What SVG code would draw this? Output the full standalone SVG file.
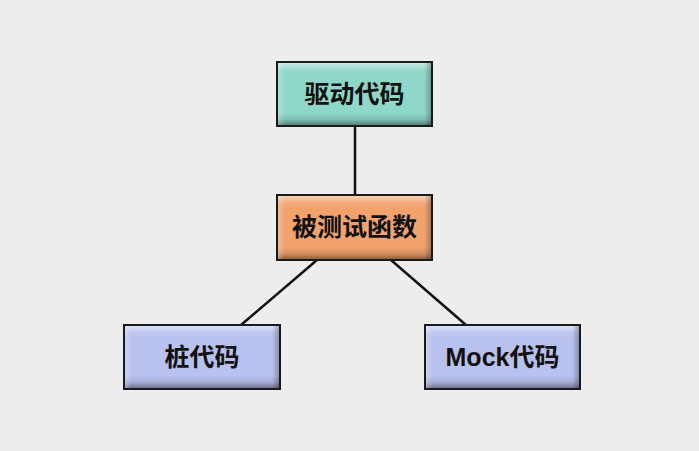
<svg xmlns="http://www.w3.org/2000/svg" width="699" height="451" viewBox="0 0 699 451">
<style>
.box{stroke:#1a1a1a;stroke-width:2}
.lbl{font-family:"Liberation Sans","Noto Sans CJK SC",sans-serif;font-weight:bold;font-size:25px;fill:#111;text-anchor:middle;dominant-baseline:central}
.edge{stroke:#111;stroke-width:2.5;fill:none}
</style>
<defs>
<linearGradient id="v" x1="0" y1="0" x2="0" y2="1">
<stop offset="0" stop-color="#fff" stop-opacity="0.55"/>
<stop offset="0.12" stop-color="#fff" stop-opacity="0.1"/>
<stop offset="0.2" stop-color="#fff" stop-opacity="0"/>
<stop offset="0.8" stop-color="#000" stop-opacity="0"/>
<stop offset="0.9" stop-color="#000" stop-opacity="0.12"/>
<stop offset="1" stop-color="#000" stop-opacity="0.45"/>
</linearGradient>
<linearGradient id="h" x1="0" y1="0" x2="1" y2="0">
<stop offset="0" stop-color="#fff" stop-opacity="0.3"/>
<stop offset="0.05" stop-color="#fff" stop-opacity="0"/>
<stop offset="0.95" stop-color="#000" stop-opacity="0"/>
<stop offset="1" stop-color="#000" stop-opacity="0.3"/>
</linearGradient>
</defs>
<rect width="699" height="451" fill="#ededed"/>
<g id="connectors">
<line class="edge" x1="355" y1="126" x2="355" y2="195"/>
<line class="edge" x1="317" y1="260" x2="241" y2="325"/>
<line class="edge" x1="391" y1="260" x2="466" y2="325"/>
</g>
<g id="driver">
<rect x="277" y="62" width="155" height="64" fill="#8fd7c8"/>
<rect x="277" y="62" width="155" height="64" fill="url(#v)"/>
<rect x="277" y="62" width="155" height="64" fill="url(#h)"/>
<rect class="box" x="277" y="62" width="155" height="64" fill="none"/>
<text class="lbl" x="354.5" y="94">驱动代码</text>
</g>
<g id="tested">
<rect x="277" y="195" width="155" height="65" fill="#f2a36c"/>
<rect x="277" y="195" width="155" height="65" fill="url(#v)"/>
<rect x="277" y="195" width="155" height="65" fill="url(#h)"/>
<rect class="box" x="277" y="195" width="155" height="65" fill="none"/>
<text class="lbl" x="354.5" y="227">被测试函数</text>
</g>
<g id="stub">
<rect x="124" y="325" width="156" height="64" fill="#b9c1ee"/>
<rect x="124" y="325" width="156" height="64" fill="url(#v)"/>
<rect x="124" y="325" width="156" height="64" fill="url(#h)"/>
<rect class="box" x="124" y="325" width="156" height="64" fill="none"/>
<text class="lbl" x="202" y="357">桩代码</text>
</g>
<g id="mock">
<rect x="425" y="325" width="155" height="64" fill="#b9c1ee"/>
<rect x="425" y="325" width="155" height="64" fill="url(#v)"/>
<rect x="425" y="325" width="155" height="64" fill="url(#h)"/>
<rect class="box" x="425" y="325" width="155" height="64" fill="none"/>
<text class="lbl" x="502.5" y="357">Mock代码</text>
</g>
</svg>
